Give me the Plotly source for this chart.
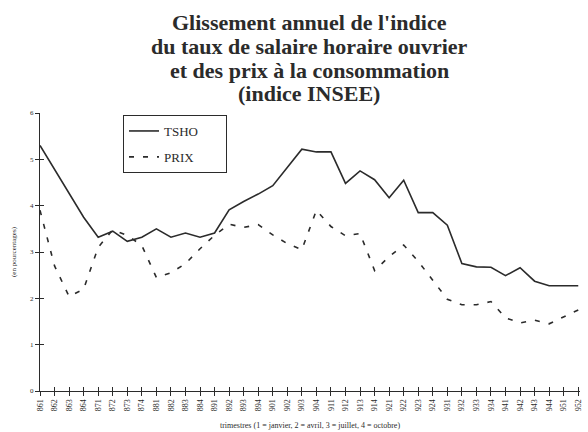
import plotly.graph_objects as go

quarters = ["861","862","863","864","871","872","873","874","881","882","883","884",
            "891","892","893","894","901","902","903","904","911","912","913","914",
            "921","922","923","924","931","932","933","934","941","942","943","944",
            "951","952"]

tsho = [5.30, 4.78, 4.27, 3.75, 3.32, 3.45, 3.23, 3.32, 3.50, 3.32, 3.41, 3.32,
        3.41, 3.91, 4.09, 4.25, 4.43, 4.82, 5.22, 5.16, 5.16, 4.48, 4.75, 4.56,
        4.17, 4.55, 3.85, 3.85, 3.58, 2.75, 2.68, 2.67, 2.49, 2.66, 2.37, 2.27,
        2.27, 2.27]

prix = [3.90, 2.70, 2.04, 2.20, 3.10, 3.48, 3.36, 3.14, 2.45, 2.55, 2.75, 3.07,
        3.36, 3.60, 3.53, 3.59, 3.37, 3.18, 3.05, 3.90, 3.55, 3.35, 3.40, 2.60,
        2.90, 3.15, 2.80, 2.40, 1.98, 1.86, 1.86, 1.93, 1.58, 1.47, 1.53, 1.45,
        1.60, 1.75]

y_ticks = [0, 1, 2, 3, 4, 5, 6]

title_lines = ["Glissement annuel de l'indice",
               "du taux de salaire horaire ouvrier",
               "et des prix à la consommation",
               "(indice INSEE)"]

serif = "Liberation Serif, Times New Roman, serif"
ink = "#2b2b2b"
pad = "\u00a0" * 7  # widens the legend box like the reference

fig = go.Figure()
fig.add_trace(go.Scatter(x=quarters, y=tsho, mode="lines", name="TSHO" + pad, legendgroup="a",
                         line=dict(color=ink, width=1.6)))
fig.add_trace(go.Scatter(x=quarters, y=prix, mode="lines", name="PRIX" + pad, legendgroup="b",
                         line=dict(color=ink, width=1.6, dash="5px,9px")))
# invisible trace carrying the inside-tick overlay axes
fig.add_trace(go.Scatter(x=quarters, y=tsho, mode="lines", showlegend=False,
                         line=dict(width=0), hoverinfo="skip", xaxis="x2", yaxis="y2"))

n = len(quarters)
top, bottom, left, right = 113, 41, 40, 8
plot_h = 432 - top - bottom
plot_w = 588 - left - right

annotations = []
for txt, yc in zip(title_lines, [22, 47, 70, 93]):
    annotations.append(dict(text="<b>" + txt + "</b>", xref="paper", yref="paper",
                            x=(309 - left) / plot_w, y=(432 - bottom - yc) / plot_h,
                            xanchor="center", yanchor="middle", showarrow=False,
                            font=dict(family=serif, size=22, color=ink)))

fig.update_layout(
    width=588, height=432,
    margin=dict(l=left, r=right, t=top, b=bottom),
    paper_bgcolor="white", plot_bgcolor="white",
    font=dict(family=serif, color=ink),
    showlegend=True,
    legend=dict(x=(123 - left) / plot_w, y=(432 - bottom - 115) / plot_h,
                xanchor="left", yanchor="top",
                bordercolor=ink, borderwidth=1, bgcolor="white",
                font=dict(family=serif, size=13, color=ink),
                itemwidth=30, tracegroupgap=6),
    xaxis=dict(type="category", range=[0, n - 1 + 0.12], showgrid=False,
               automargin=False,
               tickmode="array", tickvals=quarters, ticktext=quarters,
               showline=True, linecolor=ink, linewidth=1.2,
               ticks="outside", ticklen=4, tickcolor=ink, tickwidth=1,
               tickangle=-90, tickfont=dict(size=8, family=serif, color=ink),
               title=dict(text="trimestres (1 = janvier, 2 = avril, 3 = juillet, 4 = octobre)",
                          font=dict(size=8, family=serif, color=ink), standoff=12),
               zeroline=False),
    yaxis=dict(range=[0, 6], tickvals=y_ticks, showgrid=False, automargin=False,
               showline=True, linecolor=ink, linewidth=1.2,
               ticks="outside", ticklen=4, tickcolor=ink, tickwidth=1,
               tickfont=dict(size=7, family=serif, color=ink),
               title=dict(text="(en pourcentages)", font=dict(size=7, family=serif, color=ink),
                          standoff=12),
               zeroline=False),
    xaxis2=dict(type="category", overlaying="x", matches="x", showticklabels=False,
                tickmode="array", tickvals=quarters, automargin=False,
                ticks="inside", ticklen=4, tickcolor=ink, tickwidth=1,
                showgrid=False, showline=False, zeroline=False, side="bottom"),
    yaxis2=dict(overlaying="y", matches="y", tickvals=y_ticks, showticklabels=False,
                automargin=False,
                ticks="inside", ticklen=4, tickcolor=ink, tickwidth=1,
                showgrid=False, showline=False, zeroline=False, side="left"),
    annotations=annotations,
)

fig.write_html("out.html", config={"displayModeBar": False},
               post_script="document.body.style.margin='0';document.body.style.padding='0';")
